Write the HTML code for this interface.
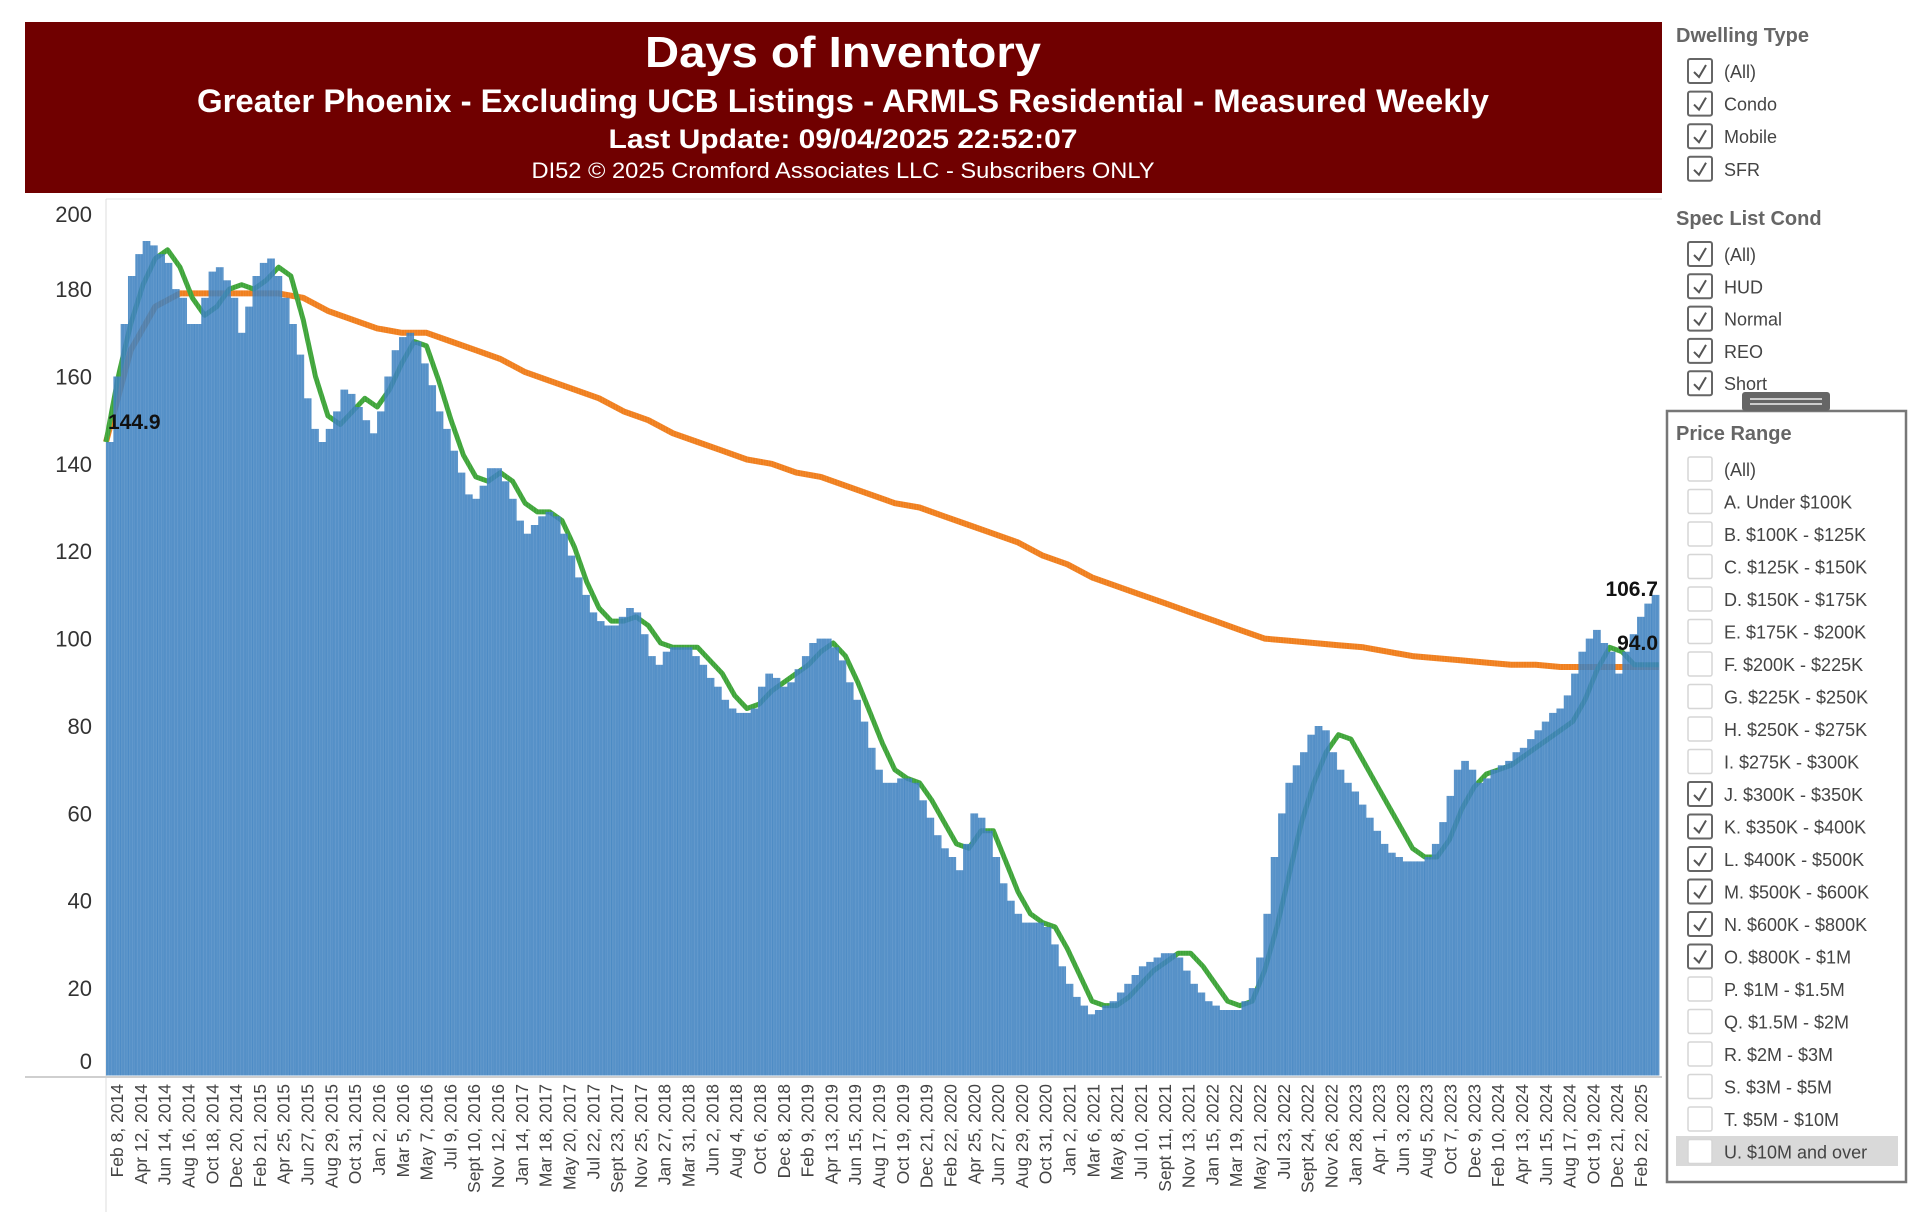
<!DOCTYPE html>
<html><head><meta charset="utf-8"><style>
html,body{margin:0;padding:0;background:#fff;width:1920px;height:1214px;overflow:hidden}
svg{display:block}
.t{font-family:"Liberation Sans",sans-serif}
</style></head><body>
<svg id="chart" width="1920" height="1214" viewBox="0 0 1920 1214" xmlns="http://www.w3.org/2000/svg">
<rect x="25" y="22" width="1637" height="171" fill="#700000"/>
<text class="t" x="843" y="67" text-anchor="middle" fill="#fff" font-size="44" font-weight="bold" textLength="396" lengthAdjust="spacingAndGlyphs">Days of Inventory</text>
<text class="t" x="843" y="112" text-anchor="middle" fill="#fff" font-size="32" font-weight="bold" textLength="1292" lengthAdjust="spacingAndGlyphs">Greater Phoenix - Excluding UCB Listings - ARMLS Residential - Measured Weekly</text>
<text class="t" x="843" y="148" text-anchor="middle" fill="#fff" font-size="27" font-weight="bold" textLength="469" lengthAdjust="spacingAndGlyphs">Last Update: 09/04/2025 22:52:07</text>
<text class="t" x="843" y="178" text-anchor="middle" fill="#fff" font-size="22" textLength="623" lengthAdjust="spacingAndGlyphs">DI52 © 2025 Cromford Associates LLC - Subscribers ONLY</text>
<line x1="106" y1="199" x2="1662" y2="199" stroke="#e6e6e6" stroke-width="1"/>
<line x1="106" y1="199" x2="106" y2="1212" stroke="#dcdcdc" stroke-width="1"/>
<line x1="25" y1="1077" x2="1662" y2="1077" stroke="#cfcfcf" stroke-width="2"/>
<g id="lines"></g>
<g id="bars"></g>
<g id="ylab"></g>
<g id="xlab"></g>
<g id="vals"></g>
<g id="panel"></g>
</svg>
<script>
const barValues=[145,160,172,183,188,191,190,188,186,180,178,172,172,178,184,185,182,178,170,176,183,186,187,183,178,172,165,155,148,145,148,152,157,156,153,150,147,152,160,166,169,170,168,163,158,152,148,143,138,133,132,135,139,139,136,132,127,124,126,128,129,128,124,119,114,110,106,104,103,103,105,107,106,101,96,94,97,98,98,98,96,94,91,89,86,84,83,83,84,89,92,91,89,90,93,96,99,100,100,98,95,90,86,81,75,70,67,67,68,68,67,63,59,55,52,50,47,53,60,59,56,50,44,40,37,35,35,35,34,30,25,21,18,16,14,15,16,17,19,21,23,25,26,27,28,28,27,24,21,19,17,16,15,15,15,17,20,27,37,50,60,67,71,74,78,80,79,74,70,67,65,62,59,56,53,51,50,49,49,49,50,53,58,64,70,72,70,67,68,70,71,72,74,75,77,79,81,83,84,87,92,97,100,102,99,97,92,97,101,105,108,110];
const greenValues=[145,160,172,181,187,189,185,178,174,176,180,181,180,182,185,183,173,160,151,149,152,155,153,157,163,168,167,159,150,142,137,136,138,136,131,129,129,127,121,113,107,104,104,105,103,99,98,98,98,95,92,87,84,85,88,90,92,94,97,99,96,90,83,76,70,68,67,63,58,53,52,56,56,49,42,37,35,34,29,23,17,16,16,18,21,24,26,28,28,25,21,17,16,17,24,34,46,58,67,74,78,77,72,67,62,57,52,50,50,54,61,66,69,70,71,73,75,77,79,81,86,93,98,97,94,94,94];
const orangeValues=[145,166,176,179,179,179,179,179,178,175,173,171,170,170,168,166,164,161,159,157,155,152,150,147,145,143,141,140,138,137,135,133,131,130,128,126,124,122,119,117,114,112,110,108,106,104,102,100,99.5,99,98.5,98,97,96,95.5,95,94.5,94,94,93.5,93.5,93.5,93.5,93.5];
const yTicks=[0,20,40,60,80,100,120,140,160,180,200];
const xLabels=["Feb 8, 2014","Apr 12, 2014","Jun 14, 2014","Aug 16, 2014","Oct 18, 2014","Dec 20, 2014","Feb 21, 2015","Apr 25, 2015","Jun 27, 2015","Aug 29, 2015","Oct 31, 2015","Jan 2, 2016","Mar 5, 2016","May 7, 2016","Jul 9, 2016","Sept 10, 2016","Nov 12, 2016","Jan 14, 2017","Mar 18, 2017","May 20, 2017","Jul 22, 2017","Sept 23, 2017","Nov 25, 2017","Jan 27, 2018","Mar 31, 2018","Jun 2, 2018","Aug 4, 2018","Oct 6, 2018","Dec 8, 2018","Feb 9, 2019","Apr 13, 2019","Jun 15, 2019","Aug 17, 2019","Oct 19, 2019","Dec 21, 2019","Feb 22, 2020","Apr 25, 2020","Jun 27, 2020","Aug 29, 2020","Oct 31, 2020","Jan 2, 2021","Mar 6, 2021","May 8, 2021","Jul 10, 2021","Sept 11, 2021","Nov 13, 2021","Jan 15, 2022","Mar 19, 2022","May 21, 2022","Jul 23, 2022","Sept 24, 2022","Nov 26, 2022","Jan 28, 2023","Apr 1, 2023","Jun 3, 2023","Aug 5, 2023","Oct 7, 2023","Dec 9, 2023","Feb 10, 2024","Apr 13, 2024","Jun 15, 2024","Aug 17, 2024","Oct 19, 2024","Dec 21, 2024","Feb 22, 2025"];
const valueLabels=["144.9","106.7","94.0"];

const NS="http://www.w3.org/2000/svg";
const X0=106,X1=1659,Y0=1075.5,PX=4.369;
function yScale(v){return Y0-v*PX;}
function xFrac(f){return X0+f*(X1-X0);}
function mk(tag,attrs,parent){const e=document.createElementNS(NS,tag);for(const k in attrs)e.setAttribute(k,attrs[k]);parent.appendChild(e);return e;}

function linePath(vals){let d="";vals.forEach((v,i)=>{const x=xFrac(i/(vals.length-1));d+=(i?"L":"M")+x.toFixed(1)+","+yScale(v).toFixed(1);});return d;}
const gl=document.getElementById('lines');
const op=mk('path',{d:linePath(orangeValues),fill:"none",stroke:"#f07f1e","stroke-width":6,"stroke-linejoin":"round"},gl);


const gp=mk('path',{d:linePath(greenValues),fill:"none",stroke:"#3fa53a","stroke-width":5,"stroke-linejoin":"round"},gl);



const gb=document.getElementById('bars');
const bw=(X1-X0)/barValues.length;
barValues.forEach((v,i)=>{
  const r=mk('rect',{x:(X0+i*bw).toFixed(2),y:yScale(v).toFixed(1),width:(bw+0.4).toFixed(2),height:(Y0-yScale(v)).toFixed(1),fill:"#3d81c0","fill-opacity":0.87},gb);
  
  
});
// fine weekly texture
for(let x=X0;x<X1;x+=2.64){
  const l=mk('line',{x1:x.toFixed(1),y1:200,x2:x.toFixed(1),y2:Y0,stroke:"#fff","stroke-opacity":0.12,"stroke-width":0.6},gb);
  
  
}
// white mask above bars for texture
const maskD=(()=>{let d="M"+X0+",199";barValues.forEach((v,i)=>{d+="L"+(X0+i*bw).toFixed(1)+","+yScale(v).toFixed(1)+"L"+(X0+(i+1)*bw).toFixed(1)+","+yScale(v).toFixed(1);});return d+"L"+X1+",199Z";})();

const gy=document.getElementById('ylab');
yTicks.forEach(v=>{
  let y=yScale(v)+8;y=Math.max(222,Math.min(1069,y));
  const t=mk('text',{x:92,y:y.toFixed(1),"text-anchor":"end","font-size":22,fill:"#333",class:"t"},gy);
  t.textContent=v;
  
  
});
const gx=document.getElementById('xlab');
xLabels.forEach((s,i)=>{
  const x=117+i*(1641-117)/(xLabels.length-1);
  const t=mk('text',{transform:`translate(${(x+6).toFixed(1)},1084) rotate(-90)`,"text-anchor":"end","font-size":17.5,fill:"#444",class:"t"},gx);
  t.textContent=s;
  
  
});
const gv=document.getElementById('vals');
[[valueLabels[0],108,429,"start"],[valueLabels[1],1658,596,"end"],[valueLabels[2],1658,650,"end"]].forEach(a=>{
  const t=mk('text',{x:a[1],y:a[2],"text-anchor":a[3],"font-size":21,"font-weight":"bold",fill:"#111",class:"t"},gv);
  t.textContent=a[0];
  
  
});

// filter panel
const gpn=document.getElementById('panel');
function heading(txt,y,name){const t=mk('text',{x:1676,y:y,"font-size":20,"font-weight":"bold",fill:"#666",class:"t"},gpn);t.textContent=txt;}
function item(txt,y,checked){
  const b=mk('rect',{x:1688,y:y-12,width:24,height:24,rx:2,fill:"#fff",stroke:checked?"#666":"#d6d6d6","stroke-width":checked?2:1.5},gpn);
  
  
  if(checked){const c=mk('path',{d:`M${1694},${y+1} L${1699},${y+6} L${1706},${y-6}`,fill:"none",stroke:"#555","stroke-width":2},gpn);}
  const t=mk('text',{x:1724,y:y+7,"font-size":18,fill:"#444",class:"t"},gpn);t.textContent=txt;
  
  
}
heading("Dwelling Type",42,"dwelling-type-heading");
["(All)","Condo","Mobile","SFR"].forEach((s,i)=>item(s,71+i*32.6,true));
heading("Spec List Cond",225,"spec-list-cond-heading");
["(All)","HUD","Normal","REO","Short"].forEach((s,i)=>item(s,254+i*32.3,true));
const box=mk('rect',{x:1667,y:411,width:239,height:771,fill:"#fff",stroke:"#777","stroke-width":2.5},gpn);


const hd=mk('rect',{x:1742,y:392,width:88,height:19,rx:3,fill:"#666"},gpn);


const hl=mk('path',{d:"M1750,399 H1822 M1750,404 H1822",stroke:"#eee","stroke-width":1.5},gpn);


const hi=mk('rect',{x:1676,y:1136,width:222,height:30,fill:"#d9d9d9"},gpn);


heading("Price Range",440,"price-range-heading");
const pr=["(All)","A. Under $100K","B. $100K - $125K","C. $125K - $150K","D. $150K - $175K","E. $175K - $200K","F. $200K - $225K","G. $225K - $250K","H. $250K - $275K","I. $275K - $300K","J. $300K - $350K","K. $350K - $400K","L. $400K - $500K","M. $500K - $600K","N. $600K - $800K","O. $800K - $1M","P. $1M - $1.5M","Q. $1.5M - $2M","R. $2M - $3M","S. $3M - $5M","T. $5M - $10M","U. $10M and over"];
pr.forEach((s,i)=>item(s,469+i*32.5,i>=10&&i<=15));
</script>
</body></html>
